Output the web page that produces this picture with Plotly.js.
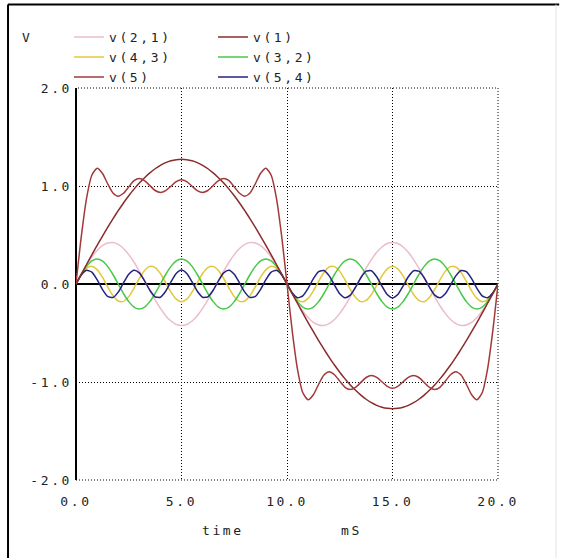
<!DOCTYPE html>
<html>
<head>
<meta charset="utf-8">
<script src="https://cdn.plot.ly/plotly-3.0.1.min.js"></script>
<style>
  html, body { margin: 0; padding: 0; background: #fff; }
  #chart { width: 562px; height: 558px; }
  svg text { letter-spacing: 2.6px !important; }
</style>
</head>
<body>
<div id="chart"></div>
<script>
// time samples (mS)
const time = [0,0.25,0.5,0.75,1,1.25,1.5,1.75,2,2.25,2.5,2.75,3,3.25,3.5,3.75,4,4.25,4.5,4.75,5,5.25,5.5,5.75,6,6.25,6.5,6.75,7,7.25,7.5,7.75,8,8.25,8.5,8.75,9,9.25,9.5,9.75,10,10.25,10.5,10.75,11,11.25,11.5,11.75,12,12.25,12.5,12.75,13,13.25,13.5,13.75,14,14.25,14.5,14.75,15,15.25,15.5,15.75,16,16.25,16.5,16.75,17,17.25,17.5,17.75,18,18.25,18.5,18.75,19,19.25,19.5,19.75,20];

// v(1)
const v1 = [0,0.100,0.199,0.297,0.393,0.487,0.578,0.665,0.748,0.827,0.900,0.968,1.030,1.085,1.134,1.176,1.211,1.238,1.257,1.269,1.273,1.269,1.257,1.238,1.211,1.176,1.134,1.085,1.030,0.968,0.900,0.827,0.748,0.665,0.578,0.487,0.393,0.297,0.199,0.100,0,
  -0.100,-0.199,-0.297,-0.393,-0.487,-0.578,-0.665,-0.748,-0.827,-0.900,-0.968,-1.030,-1.085,-1.134,-1.176,-1.211,-1.238,-1.257,-1.269,-1.273,-1.269,-1.257,-1.238,-1.211,-1.176,-1.134,-1.085,-1.030,-0.968,-0.900,-0.827,-0.748,-0.665,-0.578,-0.487,-0.393,-0.297,-0.199,-0.100,0];

// v(2,1)
const v21 = [0,0.099,0.193,0.276,0.343,0.392,0.419,0.423,0.404,0.362,0.300,0.222,0.131,0.033,-0.066,-0.162,-0.249,-0.323,-0.378,-0.413,-0.424,-0.413,-0.378,-0.323,-0.249,-0.162,-0.066,0.033,0.131,0.222,0.300,0.362,0.404,0.423,0.419,0.392,0.343,0.276,0.193,0.099,0,
  -0.099,-0.193,-0.276,-0.343,-0.392,-0.419,-0.423,-0.404,-0.362,-0.300,-0.222,-0.131,-0.033,0.066,0.162,0.249,0.323,0.378,0.413,0.424,0.413,0.378,0.323,0.249,0.162,0.066,-0.033,-0.131,-0.222,-0.300,-0.362,-0.404,-0.423,-0.419,-0.392,-0.343,-0.276,-0.193,-0.099,0];

// v(3,2)
const v32 = [0,0.097,0.180,0.235,0.255,0.235,0.180,0.097,0,-0.097,-0.180,-0.235,-0.255,-0.235,-0.180,-0.097,0,0.097,0.180,0.235,0.255,0.235,0.180,0.097,0,-0.097,-0.180,-0.235,-0.255,-0.235,-0.180,-0.097,0,0.097,0.180,0.235,0.255,0.235,0.180,0.097,0,
  -0.097,-0.180,-0.235,-0.255,-0.235,-0.180,-0.097,0,0.097,0.180,0.235,0.255,0.235,0.180,0.097,0,-0.097,-0.180,-0.235,-0.255,-0.235,-0.180,-0.097,0,0.097,0.180,0.235,0.255,0.235,0.180,0.097,0,-0.097,-0.180,-0.235,-0.255,-0.235,-0.180,-0.097,0];

// v(4,3)
const v43 = [0,0.095,0.162,0.181,0.147,0.070,-0.028,-0.118,-0.173,-0.177,-0.129,-0.042,0.056,0.138,0.180,0.168,0.107,0.014,-0.083,-0.155,-0.182,-0.155,-0.083,0.014,0.107,0.168,0.180,0.138,0.056,-0.042,-0.129,-0.177,-0.173,-0.118,-0.028,0.070,0.147,0.181,0.162,0.095,0,
  -0.095,-0.162,-0.181,-0.147,-0.070,0.028,0.118,0.173,0.177,0.129,0.042,-0.056,-0.138,-0.180,-0.168,-0.107,-0.014,0.083,0.155,0.182,0.155,0.083,-0.014,-0.107,-0.168,-0.180,-0.138,-0.056,0.042,0.129,0.177,0.173,0.118,0.028,-0.070,-0.147,-0.181,-0.162,-0.095,0];

// v(5,4)
const v54 = [0,0.092,0.140,0.121,0.044,-0.054,-0.126,-0.138,-0.083,0.011,0.100,0.141,0.114,0.033,-0.064,-0.131,-0.135,-0.074,0.022,0.108,0.142,0.108,0.022,-0.074,-0.135,-0.131,-0.064,0.033,0.114,0.141,0.100,0.011,-0.083,-0.138,-0.126,-0.054,0.044,0.121,0.140,0.092,0,
  -0.092,-0.140,-0.121,-0.044,0.054,0.126,0.138,0.083,-0.011,-0.100,-0.141,-0.114,-0.033,0.064,0.131,0.135,0.074,-0.022,-0.108,-0.142,-0.108,-0.022,0.074,0.135,0.131,0.064,-0.033,-0.114,-0.141,-0.100,-0.011,0.083,0.138,0.126,0.054,-0.044,-0.121,-0.140,-0.092,0];

// v(5)
const v5 = [0,0.483,0.874,1.110,1.182,1.130,1.023,0.929,0.896,0.926,0.991,1.054,1.076,1.054,1.004,0.954,0.934,0.952,0.998,1.044,1.064,1.044,0.998,0.952,0.934,0.954,1.004,1.054,1.076,1.054,0.991,0.926,0.896,0.929,1.023,1.130,1.182,1.110,0.874,0.483,0,
  -0.483,-0.874,-1.110,-1.182,-1.130,-1.023,-0.929,-0.896,-0.926,-0.991,-1.054,-1.076,-1.054,-1.004,-0.954,-0.934,-0.952,-0.998,-1.044,-1.064,-1.044,-0.998,-0.952,-0.934,-0.954,-1.004,-1.054,-1.076,-1.054,-0.991,-0.926,-0.896,-0.929,-1.023,-1.130,-1.182,-1.110,-0.874,-0.483,0];

// tick labels
const xTickVals = [0,5,10,15,20];
const xTickText = ['0.0','5.0','10.0','15.0','20.0'];
const yTickVals = [-2,-1,0,1,2];
const yTickText = ['-2.0','-1.0','0.0','1.0','2.0'];

const FONT = {family: 'DejaVu Sans Mono, monospace', size: 13, color: '#222'};
const DOTS = '1px,2px';

function tr(name, y, color, legend, rank) {
  return {x: time, y: y, name: name, type: 'scatter', mode: 'lines',
    line: {color: color, width: 1.5, shape: 'spline', smoothing: 0.6},
    legend: legend, legendrank: rank, hoverinfo: 'skip'};
}

const data = [
  tr('v(2,1)', v21, '#ecbccc', 'legend', 1),
  tr('v(4,3)', v43, '#e2c83c', 'legend', 2),
  tr('v(3,2)', v32, '#48c848', 'legend2', 2),
  tr('v(5,4)', v54, '#23237e', 'legend2', 3),
  tr('v(1)', v1, '#8a2c2c', 'legend2', 1),
  tr('v(5)', v5, '#a33a3a', 'legend', 3),
];

const axisCommon = {
  showgrid: true, gridcolor: '#000', gridwidth: 1, griddash: DOTS,
  showline: false, ticks: '', zeroline: true, zerolinecolor: '#000', zerolinewidth: 2,
  tickfont: FONT, fixedrange: true
};

const layout = {
  width: 562, height: 558,
  margin: {l: 76, r: 64, t: 88, b: 78, pad: 0},
  paper_bgcolor: '#fff', plot_bgcolor: '#fff',
  font: FONT,
  showlegend: true,
  xaxis: Object.assign({}, axisCommon, {
    range: [0, 20], autorange: false, tickmode: 'array',
    tickvals: xTickVals, ticktext: xTickText, ticklabelstandoff: 12
  }),
  yaxis: Object.assign({}, axisCommon, {
    range: [-2, 2], autorange: false, tickmode: 'array',
    tickvals: yTickVals, ticktext: yTickText, ticklabelstandoff: 3
  }),
  legend: {
    x: -0.0166, xanchor: 'left', y: 1.168, yanchor: 'top',
    orientation: 'v', traceorder: 'normal', bgcolor: 'rgba(0,0,0,0)',
    borderwidth: 0, font: FONT, itemwidth: 30
  },
  legend2: {
    x: 0.3246, xanchor: 'left', y: 1.168, yanchor: 'top',
    orientation: 'v', traceorder: 'normal', bgcolor: 'rgba(0,0,0,0)',
    borderwidth: 0, font: FONT, itemwidth: 30
  },
  annotations: [
    {text: 'V', xref: 'paper', yref: 'paper', x: -0.116, y: 1.1276, showarrow: false, font: FONT, xanchor: 'center', yanchor: 'middle'},
    {text: 'time', xref: 'paper', yref: 'paper', x: 0.348, y: -0.130, showarrow: false, font: FONT, xanchor: 'center', yanchor: 'middle'},
    {text: 'mS', xref: 'paper', yref: 'paper', x: 0.654, y: -0.1276, showarrow: false, font: FONT, xanchor: 'center', yanchor: 'middle'}
  ],
  shapes: [
    // dotted frame of the plot area (edge grid lines)
    {type: 'rect', xref: 'paper', yref: 'paper', x0: 0, x1: 1, y0: 0, y1: 1, layer: 'below', line: {color: '#000', width: 1, dash: DOTS}},
    // outer picture frame
    {type: 'line', xref: 'paper', yref: 'paper', x0: -0.1611, x1: 1.145, y0: 1.2130, y1: 1.2130, line: {color: '#000', width: 2}},
    {type: 'line', xref: 'paper', yref: 'paper', x0: -0.1611, x1: -0.1611, y0: 1.2130, y1: -0.2, line: {color: '#000', width: 2}},
    {type: 'line', xref: 'paper', yref: 'paper', x0: 1.1374, x1: 1.1374, y0: 1.2130, y1: -0.2, line: {color: '#e4e4e4', width: 1}}
  ]
};

Plotly.newPlot('chart', data, layout, {staticPlot: true, displayModeBar: false});
</script>
</body>
</html>
